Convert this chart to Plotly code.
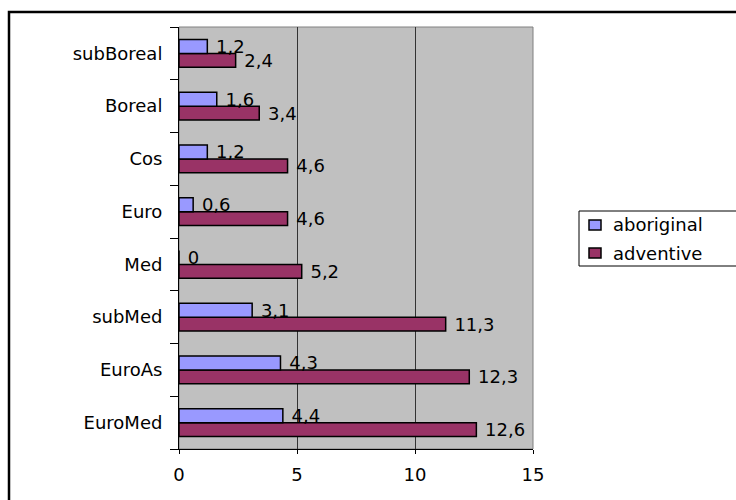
import plotly.graph_objects as go

# Categories, listed bottom-to-top along the vertical axis
categories = ["EuroMed", "EuroAs", "subMed", "Med", "Euro", "Cos", "Boreal", "subBoreal"]
aboriginal = [4.4, 4.3, 3.1, 0, 0.6, 1.2, 1.6, 1.2]
adventive = [12.6, 12.3, 11.3, 5.2, 4.6, 4.6, 3.4, 2.4]
x_ticks = [0, 5, 10, 15]

series = [("aboriginal", aboriginal, "#9999FF"),
          ("adventive", adventive, "#993366")]


def comma_label(v):
    # decimal comma, with a non-breaking space keeping the label off the bar end
    return "\u00a0" + f"{v:g}".replace(".", ",")


FONT = "DejaVu Sans"
FS = 18

fig = go.Figure()
# adventive goes in first so it sits below aboriginal inside each group
for name, vals, color in reversed(series):
    fig.add_trace(go.Bar(
        name=name,
        y=categories,
        x=vals,
        orientation="h",
        marker=dict(color=color, line=dict(color="black", width=1.5)),
        text=[comma_label(v) for v in vals],
        textposition="outside",
        textfont=dict(family=FONT, size=FS, color="black"),
        constraintext="none",
        cliponaxis=False,
        showlegend=False,
    ))

L, R, T, B = 179, 533, 27, 449
W, H = 736, 500
pw, ph = R - L, B - T


def px_x(p):
    return (p - L) / pw


def px_y(p):
    return (B - p) / ph


shapes = [
    # grey border around the plot area
    dict(type="rect", xref="paper", yref="paper", x0=0, x1=1, y0=0, y1=1,
         line=dict(color="#808080", width=1), layer="below"),
    # outer chart frame
    dict(type="rect", xref="paper", yref="paper",
         x0=px_x(9), x1=px_x(745), y0=px_y(12), y1=px_y(515),
         line=dict(color="black", width=2.5)),
    # legend box
    dict(type="rect", xref="paper", yref="paper",
         x0=px_x(579), x1=px_x(745), y0=px_y(211), y1=px_y(266),
         line=dict(color="black", width=1), fillcolor="white"),
]
annotations = []
for i, (name, vals, color) in enumerate(series):
    cy = 225 + 28 * i
    shapes.append(dict(type="rect", xref="paper", yref="paper",
                       x0=px_x(589), x1=px_x(601), y0=px_y(cy + 5), y1=px_y(cy - 5),
                       line=dict(color="black", width=1.5), fillcolor=color))
    annotations.append(dict(xref="paper", yref="paper", x=px_x(611), y=px_y(cy),
                            xanchor="left", yanchor="middle", text=name,
                            showarrow=False,
                            font=dict(family=FONT, size=18, color="black")))

fig.update_layout(
    width=W, height=H,
    margin=dict(l=L, r=W - R, t=T, b=H - B, pad=0),
    paper_bgcolor="white",
    plot_bgcolor="#C0C0C0",
    barmode="group",
    bargap=0.47,
    bargroupgap=0,
    font=dict(family=FONT, size=FS, color="black"),
    showlegend=False,
    xaxis=dict(
        range=[0, 15],
        tickvals=x_ticks,
        ticktext=[str(v) for v in x_ticks],
        showgrid=True, gridcolor="#333333", gridwidth=1,
        zeroline=False,
        showline=True, linecolor="black", linewidth=1,
        ticks="outside", ticklen=4, tickcolor="black",
        ticklabelstandoff=5,
        tickfont=dict(family=FONT, size=FS),
        fixedrange=True,
    ),
    yaxis=dict(
        categoryorder="array", categoryarray=categories,
        showgrid=False, zeroline=False,
        showline=True, linecolor="black", linewidth=1,
        ticks="outside", ticklen=8, tickcolor="black",
        tickson="boundaries",
        ticklabelstandoff=12,
        tickfont=dict(family=FONT, size=FS),
        fixedrange=True,
    ),
    shapes=shapes,
    annotations=annotations,
)

fig.write_html("out.html")
